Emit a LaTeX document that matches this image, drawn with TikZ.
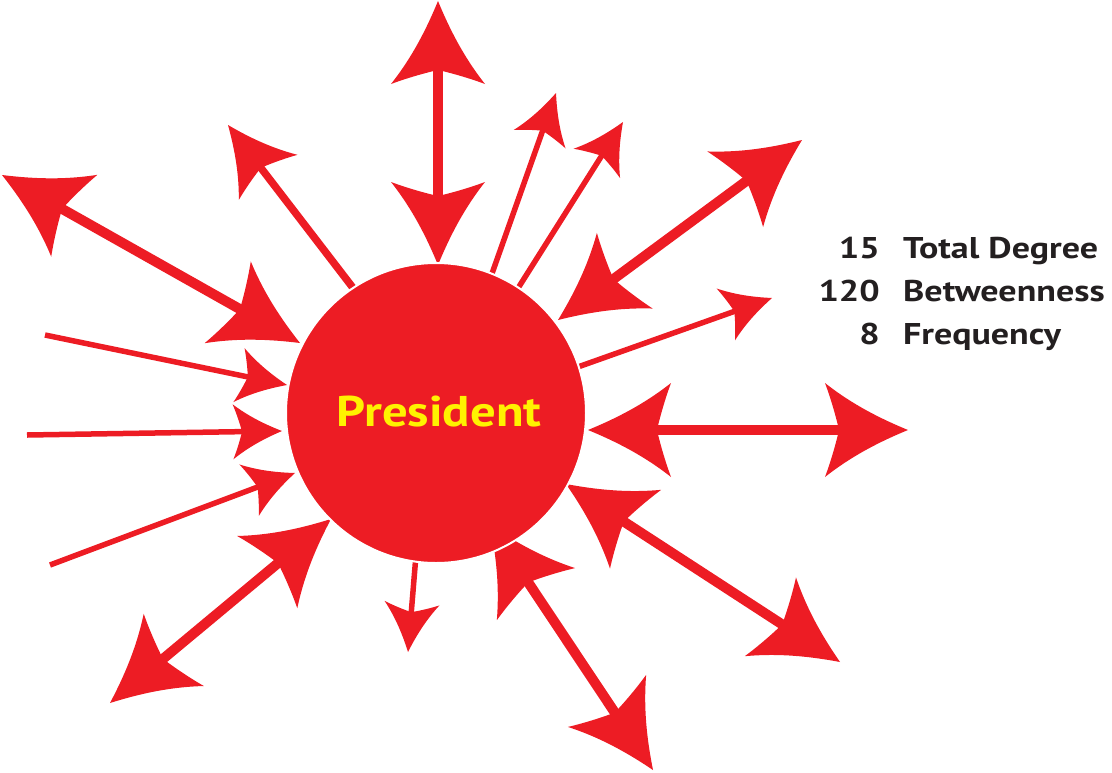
\documentclass[tikz,border=0pt]{standalone}
\usepackage{fontspec}
\setmainfont{PT Sans}
\newfontfamily\hubfont[FakeStretch=1.18]{PT Sans}
\newfontfamily\measfont[FakeStretch=1.2]{PT Sans}
\usetikzlibrary{arrows.meta}
\definecolor{arrowred}{HTML}{ED1C24}
\definecolor{presyellow}{HTML}{FFF200}
\definecolor{labelgray}{HTML}{231F20}

\pgfdeclarearrow{
  name = Barb,
  parameters = {\the\pgfarrowlength,\the\pgfarrowwidth,\the\pgfarrowinset},
  setup code = {
    \pgfarrowssettipend{0pt}
    \pgfarrowssetlineend{-0.5\pgfarrowlength}
    \pgfarrowssetbackend{-\pgfarrowlength}
    \pgfarrowssavethe\pgfarrowlength
    \pgfarrowssavethe\pgfarrowwidth
    \pgfarrowssavethe\pgfarrowinset
  },
  drawing code = {
    \pgfpathmoveto{\pgfpointorigin}
    \pgfpathcurveto
      {\pgfpoint{-0.33*\pgfarrowlength}{0.12*\pgfarrowwidth}}
      {\pgfpoint{-0.67*\pgfarrowlength}{0.27*\pgfarrowwidth}}
      {\pgfpoint{-\pgfarrowlength}{0.5*\pgfarrowwidth}}
    \pgfpathcurveto
      {\pgfpoint{-\pgfarrowlength+0.5*\pgfarrowinset}{0.3*\pgfarrowwidth}}
      {\pgfpoint{-\pgfarrowlength+0.85*\pgfarrowinset}{0.1*\pgfarrowwidth}}
      {\pgfpoint{-\pgfarrowlength+\pgfarrowinset}{0pt}}
    \pgfpathcurveto
      {\pgfpoint{-\pgfarrowlength+0.85*\pgfarrowinset}{-0.1*\pgfarrowwidth}}
      {\pgfpoint{-\pgfarrowlength+0.5*\pgfarrowinset}{-0.3*\pgfarrowwidth}}
      {\pgfpoint{-\pgfarrowlength}{-0.5*\pgfarrowwidth}}
    \pgfpathcurveto
      {\pgfpoint{-0.67*\pgfarrowlength}{-0.27*\pgfarrowwidth}}
      {\pgfpoint{-0.33*\pgfarrowlength}{-0.12*\pgfarrowwidth}}
      {\pgfpointorigin}
    \pgfpathclose
    \pgfusepathqfill
  },
  defaults = {length = 80pt, width = 90pt, inset = 15pt}
}

\tikzset{
  bigtip/.tip={Barb[length=83pt,width=94pt,inset=14pt]},
  medtip/.tip={Barb[length=66pt,width=74pt,inset=12pt]},
  smalltip/.tip={Barb[length=49pt,width=55pt,inset=9pt]},
  bigdouble/.style={draw=arrowred, line width=10pt, line cap=butt, bigtip-bigtip},
  medsingle/.style={draw=arrowred, line width=7.5pt, line cap=butt, -medtip},
  smallsingle/.style={draw=arrowred, line width=5.5pt, line cap=butt, -smalltip},
  hub/.style={circle, fill=arrowred, draw=white, line width=2pt, minimum size=300pt, inner sep=0pt},
  hubtext/.style={text=presyellow, font=\hubfont\bfseries\fontsize{43}{43}\selectfont, inner sep=0pt},
  numtext/.style={text=labelgray, font=\measfont\bfseries\fontsize{30}{30}\selectfont, inner sep=0pt},
}

\begin{document}
\begin{tikzpicture}[x=1pt,y=-1pt]
\useasboundingbox (0,0) rectangle (1112,772);

% endpoints
\coordinate (a1s) at (438,1);    \coordinate (a1e) at (438,265);
\coordinate (a2s) at (2,175);    \coordinate (a2e) at (300,343);
\coordinate (a3s) at (360,297);  \coordinate (a3e) at (228,125);
\coordinate (a4s) at (489,282);  \coordinate (a4e) at (556,93);
\coordinate (a5s) at (515,293);  \coordinate (a5e) at (623,122);
\coordinate (a6s) at (802,140);  \coordinate (a6e) at (558,320);
\coordinate (a7s) at (575,368);  \coordinate (a7e) at (772,298);
\coordinate (a8s) at (588,430);  \coordinate (a8e) at (908,430);
\coordinate (a9s) at (566,484);  \coordinate (a9e) at (840,662);
\coordinate (a10s) at (490,525); \coordinate (a10e) at (653,770);
\coordinate (a11s) at (416,555); \coordinate (a11e) at (408,652);
\coordinate (a12s) at (331,519); \coordinate (a12e) at (110,703);
\coordinate (a13s) at (45,335);  \coordinate (a13e) at (287,385);
\coordinate (a14s) at (27,435);  \coordinate (a14e) at (282,431);
\coordinate (a15s) at (50,565);  \coordinate (a15e) at (295,473);

% connectors
\draw[bigdouble] (a1s) -- (a1e);
\draw[bigdouble] (a2s) -- (a2e);
\draw[medsingle] (a3s) -- (a3e);
\draw[smallsingle] (a4s) -- (a4e);
\draw[smallsingle] (a5s) -- (a5e);
\draw[bigdouble] (a6s) -- (a6e);
\draw[smallsingle] (a7s) -- (a7e);
\draw[bigdouble] (a8s) -- (a8e);
\draw[bigdouble] (a9s) -- (a9e);
\draw[bigdouble] (a10s) -- (a10e);
\draw[smallsingle] (a11s) -- (a11e);
\draw[bigdouble] (a12s) -- (a12e);
\draw[smallsingle] (a13s) -- (a13e);
\draw[smallsingle] (a14s) -- (a14e);
\draw[smallsingle] (a15s) -- (a15e);

% hub
\node[hub] (P) at (436,413) {};
\node[hubtext] (Pl) at (439,412) {President};

% measures
\node[numtext, anchor=base east] (n1) at (880,258) {15};
\node[numtext, anchor=base west] (l1) at (903,258) {Total Degree};
\node[numtext, anchor=base east] (n2) at (880,301) {120};
\node[numtext, anchor=base west] (l2) at (903,301) {Betweenness};
\node[numtext, anchor=base east] (n3) at (880,344) {8};
\node[numtext, anchor=base west] (l3) at (903,344) {Frequency};
\end{tikzpicture}
\end{document}
